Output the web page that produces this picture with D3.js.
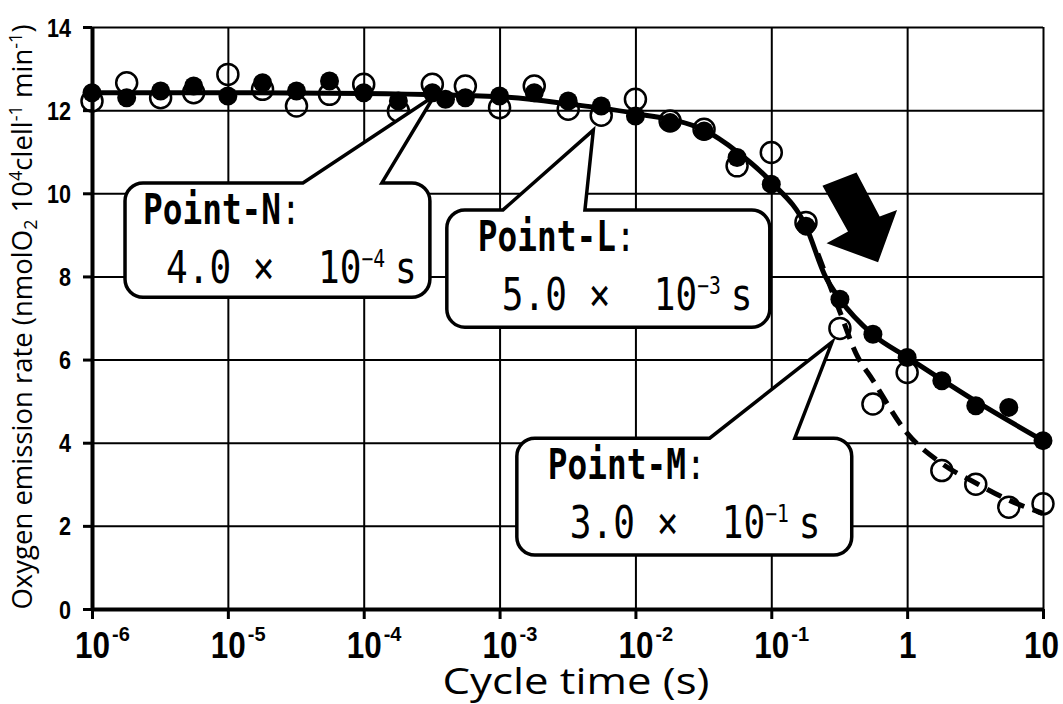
<!DOCTYPE html>
<html>
<head>
<meta charset="utf-8">
<script src="https://cdn.jsdelivr.net/npm/d3@7"></script>
<style>
  body { margin: 0; background: #fff; }
  svg { display: block; }
</style>
</head>
<body>
<script>
// measured points (filled = solid fit, open = dashed fit)
var filledTime = [1e-6, 1.8e-6, 3.2e-6, 5.6e-6, 1e-5, 1.8e-5, 3.2e-5, 5.6e-5, 1e-4, 1.8e-4, 3.2e-4, 4e-4,
                  5.6e-4, 1e-3, 1.8e-3, 3.2e-3, 5.6e-3, 1e-2, 1.8e-2, 3.2e-2, 5.6e-2, 0.1, 0.18, 0.32, 0.56,
                  1, 1.8, 3.2, 5.6, 10];
var filledRate = [12.42, 12.30, 12.46, 12.58, 12.34, 12.66, 12.46, 12.70, 12.42, 12.22, 12.42, 12.26,
                  12.30, 12.34, 12.42, 12.22, 12.10, 11.86, 11.70, 11.50, 10.86, 10.22, 9.21, 7.45, 6.61,
                  6.05, 5.49, 4.89, 4.85, 4.05];
var openTime = [1e-6, 1.8e-6, 3.2e-6, 5.6e-6, 1e-5, 1.8e-5, 3.2e-5, 5.6e-5, 1e-4, 1.8e-4, 3.2e-4,
                5.6e-4, 1e-3, 1.8e-3, 3.2e-3, 5.6e-3, 1e-2, 1.8e-2, 3.2e-2, 5.6e-2, 0.1, 0.18, 0.32, 0.56,
                1, 1.8, 3.2, 5.6, 10];
var openRate = [12.22, 12.66, 12.30, 12.42, 12.86, 12.50, 12.10, 12.38, 12.62, 11.98, 12.62,
                12.58, 12.06, 12.58, 12.02, 11.88, 12.26, 11.74, 11.54, 10.66, 10.98, 9.30, 6.75, 4.93,
                5.69, 3.33, 3.00, 2.45, 2.53];

// fitted curves
var solidFitTime = [1e-6, 1e-5, 1e-4, 1e-3, 3.2e-3, 1e-2, 3.2e-2, 5.6e-2, 0.1, 0.18, 0.25, 0.32, 0.56, 1, 3.2, 10];
var solidFitRate = [12.42, 12.42, 12.40, 12.32, 12.15, 11.92, 11.52, 11.0, 10.27, 9.2, 8.0, 7.45, 6.6, 6.06, 5.0, 4.05];
var dashFitTime = [0.22, 0.32, 0.42, 0.56, 1, 1.8, 3.2, 5.6, 10];
var dashFitRate = [8.55, 7.15, 6.15, 5.5, 4.23, 3.5, 3.03, 2.62, 2.3];

var xTickValues = [1e-6, 1e-5, 1e-4, 1e-3, 1e-2, 1e-1, 1, 10];
var xTickBase = ["10", "10", "10", "10", "10", "10", "1", "10"];
var xTickExp = ["-6", "-5", "-4", "-3", "-2", "-1", "", ""];
var yTickValues = [0, 2, 4, 6, 8, 10, 12, 14];

// callouts
var calloutLabel = ["Point-N", "Point-L", "Point-M"];
var calloutMantissa = ["4.0", "5.0", "3.0"];
var calloutExp = ["\u22124", "\u22123", "\u22121"];
var calloutTipTime = [3.3e-4, 4.9e-3, 0.28];
var calloutTipRate = [12.34, 11.52, 6.42];
var calloutBoxTime = [[1.75e-6, 3.07e-4], [4.09e-4, 0.0975], [1.34e-3, 0.391]];
var calloutBoxRate = [[10.25, 7.5], [9.6, 6.78], [4.11, 1.30]];
var calloutBaseTime = [[3.57e-5, 1.36e-4], [1.06e-3, 4.25e-3], [0.0352, 0.149]];

// big arrow (time, rate)
var arrowTime = [0.238, 0.424, 0.628, 0.843, 0.611, 0.255, 0.367];
var arrowRate = [10.18, 10.50, 9.44, 9.60, 8.34, 8.80, 9.08];

var width = 1063, height = 704;

var svg = d3.select("body").append("svg")
    .attr("width", width)
    .attr("height", height);

var x = d3.scaleLog().domain([1e-6, 10]).range([92, 1043]);
var y = d3.scaleLinear().domain([0, 14]).range([609, 27]);

// grid
svg.append("g")
    .attr("transform", "translate(0," + y(0) + ")")
    .call(d3.axisBottom(x).tickValues(xTickValues).tickSize(-(y(0) - y(14))).tickFormat(""))
    .call(function(g) { g.select(".domain").remove(); })
    .selectAll("line").attr("stroke", "#000").attr("stroke-width", 2);

svg.append("g")
    .attr("transform", "translate(" + x(1e-6) + ",0)")
    .call(d3.axisLeft(y).tickValues(yTickValues).tickSize(-(x(10) - x(1e-6))).tickFormat(""))
    .call(function(g) { g.select(".domain").remove(); })
    .selectAll("line").attr("stroke", "#000").attr("stroke-width", 2);

// axes
var yAxis = svg.append("g")
    .attr("transform", "translate(" + x(1e-6) + ",0)")
    .call(d3.axisLeft(y).tickValues(yTickValues).tickSize(9).tickSizeOuter(0).tickFormat(""));
yAxis.select(".domain").attr("stroke", "#000").attr("stroke-width", 4);
yAxis.selectAll(".tick line").attr("stroke", "#000").attr("stroke-width", 3);
yAxis.selectAll(".tick").append("text")
    .attr("x", -21)
    .attr("dy", "0.36em")
    .attr("text-anchor", "end")
    .attr("fill", "#000")
    .attr("font-family", "'Liberation Sans', Arial, sans-serif")
    .attr("font-weight", "bold")
    .attr("font-size", 25)
    .attr("textLength", function(d) { return d >= 10 ? 24 : 12; })
    .attr("lengthAdjust", "spacingAndGlyphs")
    .text(function(d) { return d; });

var xAxis = svg.append("g")
    .attr("transform", "translate(0," + y(0) + ")")
    .call(d3.axisBottom(x).tickValues(xTickValues).tickSize(10).tickSizeOuter(0).tickFormat(""));
xAxis.select(".domain").attr("stroke", "#000").attr("stroke-width", 4);
xAxis.selectAll(".tick line").attr("stroke", "#000").attr("stroke-width", 3);
xAxis.selectAll(".tick").each(function(d, i) {
    var g = d3.select(this);
    g.append("text")
        .attr("x", i === xTickValues.length - 1 ? -2 : 0)
        .attr("y", 49)
        .attr("text-anchor", "middle")
        .attr("fill", "#000")
        .attr("font-family", "'Liberation Sans', Arial, sans-serif")
        .attr("font-weight", "bold")
        .attr("font-size", 36)
        .attr("textLength", xTickBase[i].length * 17.5)
        .attr("lengthAdjust", "spacingAndGlyphs")
        .text(xTickBase[i]);
    if (xTickExp[i]) {
        g.append("text")
            .attr("x", xTickBase[i].length * 17.5 / 2 + 2)
            .attr("y", 32)
            .attr("text-anchor", "start")
            .attr("fill", "#000")
            .attr("font-family", "'Liberation Sans', Arial, sans-serif")
            .attr("font-weight", "bold")
            .attr("font-size", 20)
            .text(xTickExp[i]);
    }
});

// axis titles
svg.append("text")
    .attr("x", 576)
    .attr("y", 694)
    .attr("text-anchor", "middle")
    .attr("font-family", "'Open Sans', sans-serif")
    .attr("font-size", 37)
    .attr("textLength", 267)
    .attr("lengthAdjust", "spacingAndGlyphs")
    .text("Cycle  time (s)");

var yTitle = svg.append("text")
    .attr("transform", "translate(32,317) rotate(-90)")
    .attr("text-anchor", "middle")
    .attr("font-family", "'Open Sans', sans-serif")
    .attr("font-size", 27.5);
yTitle.append("tspan").text("Oxygen emission rate (nmolO");
yTitle.append("tspan").attr("font-size", 18).attr("dy", 5).text("2");
yTitle.append("tspan").attr("dy", -5).text(" 10");
yTitle.append("tspan").attr("font-size", 18).attr("dy", -10).text("4");
yTitle.append("tspan").attr("dy", 10).text("clell");
yTitle.append("tspan").attr("font-size", 18).attr("dy", -10).text("-1");
yTitle.append("tspan").attr("dy", 10).text(" min");
yTitle.append("tspan").attr("font-size", 18).attr("dy", -10).text("-1");
yTitle.append("tspan").attr("dy", 10).text(")");

// fit lines
var line = d3.line()
    .x(function(d) { return x(d[0]); })
    .y(function(d) { return y(d[1]); })
    .curve(d3.curveMonotoneX);

svg.append("path")
    .datum(d3.zip(dashFitTime, dashFitRate))
    .attr("d", line)
    .attr("fill", "none")
    .attr("stroke", "#000")
    .attr("stroke-width", 5)
    .attr("stroke-dasharray", "16,9");

svg.append("path")
    .datum(d3.zip(solidFitTime, solidFitRate))
    .attr("d", line)
    .attr("fill", "none")
    .attr("stroke", "#000")
    .attr("stroke-width", 5);

// points
svg.selectAll("circle.open")
    .data(d3.zip(openTime, openRate))
    .enter().append("circle")
    .attr("class", "open")
    .attr("cx", function(d) { return x(d[0]); })
    .attr("cy", function(d) { return y(d[1]); })
    .attr("r", 10.5)
    .attr("fill", "none")
    .attr("stroke", "#000")
    .attr("stroke-width", 2.5);

svg.selectAll("circle.filled")
    .data(d3.zip(filledTime, filledRate))
    .enter().append("circle")
    .attr("class", "filled")
    .attr("cx", function(d) { return x(d[0]); })
    .attr("cy", function(d) { return y(d[1]); })
    .attr("r", 9.5)
    .attr("fill", "#000");

// callouts
var line1Dx = [18, 31, 31];
var line2Dx = [41, 55, 53];
calloutLabel.forEach(function(label, i) {
    var l = x(calloutBoxTime[i][0]), r = x(calloutBoxTime[i][1]);
    var t = y(calloutBoxRate[i][0]), b = y(calloutBoxRate[i][1]);
    var rad = 18;
    var p = d3.path();
    p.moveTo(l + rad, t);
    p.lineTo(x(calloutBaseTime[i][0]), t);
    p.lineTo(x(calloutTipTime[i]), y(calloutTipRate[i]));
    p.lineTo(x(calloutBaseTime[i][1]), t);
    p.lineTo(r - rad, t);
    p.arcTo(r, t, r, t + rad, rad);
    p.lineTo(r, b - rad);
    p.arcTo(r, b, r - rad, b, rad);
    p.lineTo(l + rad, b);
    p.arcTo(l, b, l, b - rad, rad);
    p.lineTo(l, t + rad);
    p.arcTo(l, t, l + rad, t, rad);
    p.closePath();
    svg.append("path")
        .attr("d", p.toString())
        .attr("fill", "#fff")
        .attr("stroke", "#000")
        .attr("stroke-width", 3.5)
        .attr("stroke-linejoin", "miter");

    var g1 = svg.append("g")
        .attr("transform", "translate(" + (l + line1Dx[i]) + "," + (t + 41) + ") scale(0.78,1)");
    var t1 = g1.append("text")
        .attr("font-family", "'DejaVu Sans Mono', monospace")
        .attr("font-size", 42);
    t1.append("tspan").attr("font-weight", "bold").text(label);
    t1.append("tspan").text(":");

    var g2 = svg.append("g")
        .attr("transform", "translate(" + (l + line2Dx[i]) + "," + (t + 100) + ") scale(0.82,1)");
    var t2 = g2.append("text")
        .attr("font-family", "'DejaVu Sans Mono', monospace")
        .attr("font-size", 44)
        .attr("xml:space", "preserve");
    t2.append("tspan").text(calloutMantissa[i] + " \u00d7  10");
    t2.append("tspan").attr("font-size", 24).attr("dy", -16).text(calloutExp[i]);
    t2.append("tspan").attr("dy", 16).attr("dx", 12).text("s");
});

// big arrow
svg.append("path")
    .datum(d3.zip(arrowTime, arrowRate))
    .attr("d", d3.line()
        .x(function(d) { return x(d[0]); })
        .y(function(d) { return y(d[1]); })
        .curve(d3.curveLinearClosed))
    .attr("fill", "#000");
</script>
</body>
</html>
